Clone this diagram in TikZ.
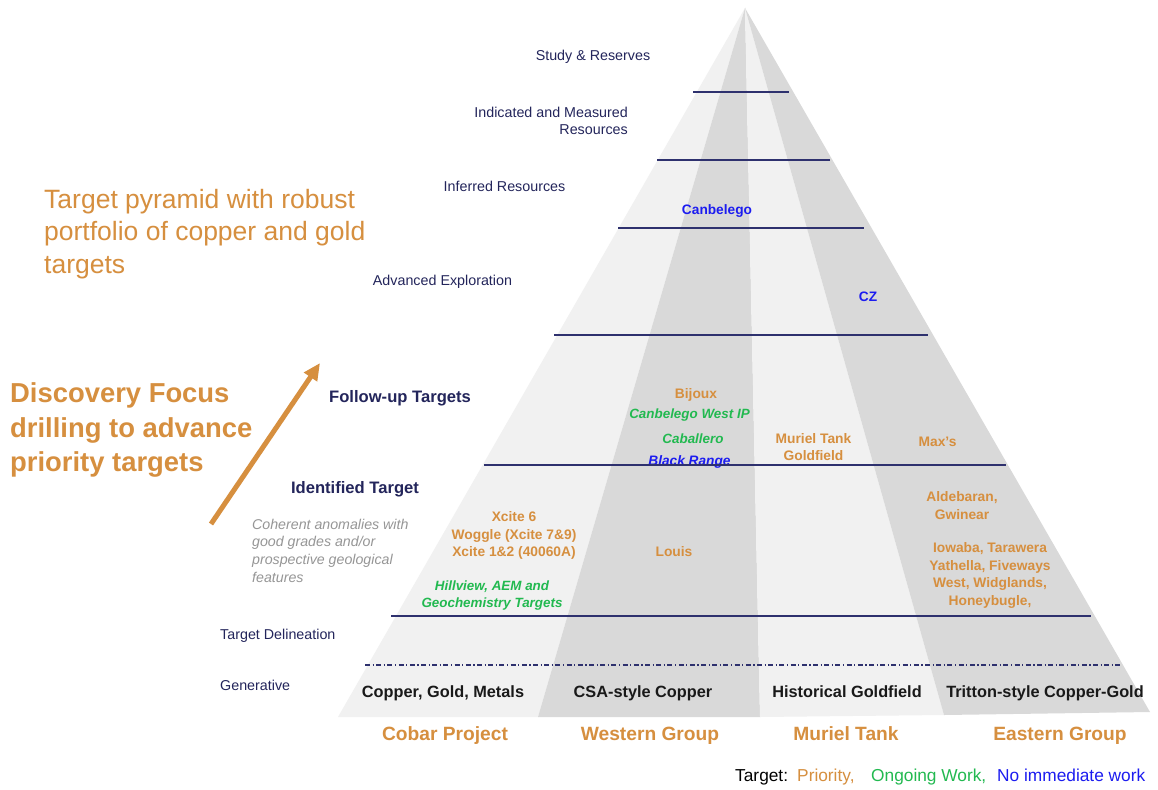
\documentclass[tikz,border=0pt]{standalone}
\usepackage{fontspec}
\setmainfont{Liberation Sans}
\usetikzlibrary{arrows.meta}

\definecolor{blunotte}{RGB}{35,37,91}
\definecolor{linea}{RGB}{46,49,110}
\definecolor{arancio}{RGB}{214,143,63}
\definecolor{verde}{RGB}{34,185,80}
\definecolor{blu}{RGB}{28,28,240}
\definecolor{grigio}{RGB}{150,150,150}
\definecolor{chiaro}{RGB}{241,241,241}
\definecolor{scuro}{RGB}{217,217,217}

\begin{document}
\begin{tikzpicture}[>=latex, x=1pt, y=-1pt,
	tappa/.style={text=blunotte, inner sep=0pt, anchor=base, font=\fontsize{14.3}{17.5}\selectfont},
	tappab/.style={text=blunotte, inner sep=0pt, anchor=base, font=\bfseries\fontsize{16.6}{20}\selectfont},
	prio/.style={text=arancio, inner sep=0pt, align=center, font=\bfseries\fontsize{13.8}{17.5}\selectfont},
	attivo/.style={text=verde, inner sep=0pt, align=center, font=\bfseries\itshape\fontsize{13.4}{17.5}\selectfont},
	fermo/.style={text=blu, inner sep=0pt, anchor=base, font=\bfseries\fontsize{13.7}{17}\selectfont},
	genere/.style={text=black!90, inner sep=0pt, anchor=base, font=\bfseries\fontsize{16.3}{20}\selectfont},
	gruppo/.style={text=arancio, inner sep=0pt, anchor=base, font=\bfseries\fontsize{19.2}{23}\selectfont},
	legenda/.style={inner sep=0pt, anchor=base west, font=\fontsize{17.3}{20}\selectfont},
	livello/.style={draw=linea, line width=2pt}]
	% Definizioni della piramide
	\def\xv{745}
	\def\yv{8}
	\def\yb{717}
	
	\fill[white] (0,0) rectangle (1158,789);
	\useasboundingbox (0,0) rectangle (1158,789);
	
	% --- Facce della piramide ---
	\coordinate (V) at (\xv,\yv);
	\coordinate (L) at (338,\yb);
	\coordinate (B1) at (538,\yb);
	\coordinate (B2) at (760,\yb);
	\coordinate (B3) at (944,715);
	\coordinate (R) at (1150,712);
	\fill[chiaro] (V) -- (L) -- (B1) -- cycle;
	\fill[scuro] (V) -- (B1) -- (B2) -- cycle;
	\fill[chiaro] (V) -- (B2) -- (B3) -- cycle;
	\fill[scuro] (V) -- (B3) -- (R) -- cycle;
	
	% --- Testi a sinistra ---
	\node[text=arancio, anchor=west, inner sep=0pt, align=left,
		font=\fontsize{26.5}{32.5}\selectfont] (titolo) at (44,234)
		{Target pyramid with robust\\portfolio of copper and gold\\targets};
	\node[text=arancio, anchor=west, inner sep=0pt, align=left,
		font=\bfseries\fontsize{27.4}{34.5}\selectfont] (focus) at (10,430)
		{Discovery Focus\\drilling to advance\\priority targets};
	\coordinate (fa) at (211,524);
	\coordinate (fb) at (320,363);
	\draw[arancio, line width=5pt, -{Triangle[length=17pt,width=15pt]}] (fa) -- (fb);
	
	% --- Etichette dei livelli ---
	\node[tappa] (studio) at (593,61) {Study \& Reserves};
	\node[tappa, anchor=east, align=right] (indicati) at (628,121) {Indicated and Measured\\Resources};
	\node[tappa] (inferiti) at (504.5,191) {Inferred Resources};
	\node[tappa] (avanzata) at (442.5,285) {Advanced Exploration};
	\node[tappab] (followup) at (400,402) {Follow-up Targets};
	\node[tappab] (identificati) at (355,493) {Identified Target};
	\node[text=grigio, anchor=west, inner sep=0pt, align=left,
		font=\itshape\fontsize{14.2}{17.7}\selectfont] (coerenti) at (252,550.5)
		{Coherent anomalies with\\good grades and/or\\prospective geological\\features};
	\node[tappa, anchor=base west] (delineazione) at (220,639) {Target Delineation};
	\node[tappa, anchor=base west] (generativo) at (220,690) {Generative};
	
	% --- Obiettivi ---
	\node[fermo] (canbelego) at (717,214) {Canbelego};
	\node[fermo] (cz) at (868,301) {CZ};
	\node[prio, anchor=base] (bijoux) at (696,398) {Bijoux};
	\node[attivo, anchor=base] (cwip) at (689.5,418) {Canbelego West IP};
	\node[attivo, anchor=base] (caballero) at (693,443) {Caballero};
	\node[fermo, font=\bfseries\itshape\fontsize{13.7}{17}\selectfont] (blackrange) at (689.5,465) {Black Range};
	\node[prio] (murieltank) at (813.5,447) {Muriel Tank\\Goldfield};
	\node[prio, anchor=base] (maxs) at (937.5,446) {Max’s};
	\node[prio] (aldebaran) at (962,505.5) {Aldebaran,\\Gwinear};
	\node[prio] (xcite) at (514,535.5) {Xcite 6\\Woggle (Xcite 7\&9)\\Xcite 1\&2 (40060A)};
	\node[prio, anchor=base] (louis) at (674,556) {Louis};
	\node[prio] (iowaba) at (990,575.5) {Iowaba, Tarawera\\Yathella, Fiveways\\West, Widglands,\\Honeybugle,};
	\node[attivo] (hillview) at (492,595.5) {Hillview, AEM and\\Geochemistry Targets};
	
	% --- Base della piramide ---
	\node[genere] (rame) at (443,697) {Copper, Gold, Metals};
	\node[genere] (csa) at (643,697) {CSA-style Copper};
	\node[genere] (storico) at (847,697) {Historical Goldfield};
	\node[genere] (tritton) at (1045,697) {Tritton-style Copper-Gold};
	
	\node[gruppo] (cobar) at (445,740) {Cobar Project};
	\node[gruppo] (western) at (650,740) {Western Group};
	\node[gruppo] (muriel) at (846,740) {Muriel Tank};
	\node[gruppo] (eastern) at (1060,740) {Eastern Group};
	
	% --- Legenda ---
	\node[legenda, text=black] (leg) at (735,781) {Target:};
	\node[legenda, text=arancio] (legp) at (797,781) {Priority,};
	\node[legenda, text=verde] (lego) at (871,781) {Ongoing Work,};
	\node[legenda, text=blu] (legn) at (997,781) {No immediate work};
	
	% --- Linee di separazione ---
	\draw[livello] (693,92) -- (789,92);
	\draw[livello] (657,160) -- (830,160);
	\draw[livello] (618,228) -- (864,228);
	\draw[livello] (554,335) -- (928,335);
	\draw[livello] (484,465) -- (1006,465);
	\draw[livello] (391,616) -- (1091,616);
	\draw[linea, line width=1.3pt, dash pattern=on 5pt off 2.5pt on 1.2pt off 2.5pt] (365,665) -- (1120,665);
\end{tikzpicture}
\end{document}
